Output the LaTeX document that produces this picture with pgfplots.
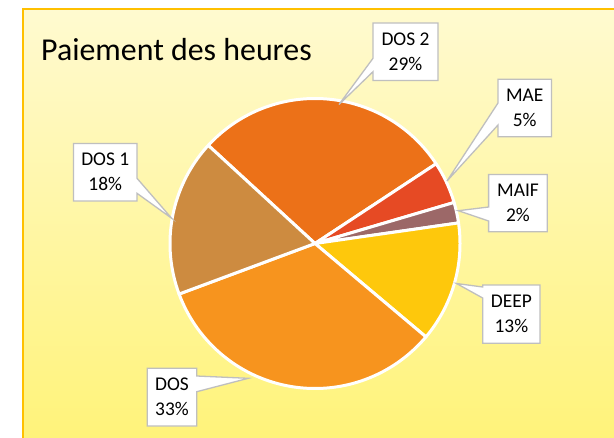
\documentclass[border=0pt]{standalone}
\usepackage{pgfplots}
\pgfplotsset{compat=1.18}
\usepackage{pgfplotstable}
\usepackage{fontspec}
\setmainfont{Carlito}
\definecolor{cDOSii}{HTML}{EC7118}
\definecolor{cMAE}{HTML}{E64A24}
\definecolor{cMAIF}{HTML}{9C6868}
\definecolor{cDEEP}{HTML}{FEC80C}
\definecolor{cDOS}{HTML}{F7941E}
\definecolor{cDOSi}{HTML}{CD8B40}
\definecolor{bgtop}{HTML}{FFFAD0}
\definecolor{bgbot}{HTML}{FFF37A}
\definecolor{frame}{HTML}{FFC000}
\definecolor{boxline}{HTML}{BFBFBF}

% slices listed clockwise, starting at 137.4 degrees
\pgfplotstableread{
slice value
DOS2 28.9
MAE 4.7
MAIF 2.3
DEEP 13.4
DOS 33.2
DOS1 17.5
}\piedata

\def\startangle{137.4}
\xdef\cum{\startangle}
\foreach \i in {0,...,5}{%
  \pgfplotstablegetelem{\i}{value}\of\piedata
  \pgfmathsetmacro\tmp{\cum-3.6*\pgfplotsretval}%
  \expandafter\xdef\csname ang\i\endcsname{\tmp}%
  \xdef\cum{\tmp}%
}
\edef\aA{\csname ang0\endcsname}
\edef\aB{\csname ang1\endcsname}
\edef\aC{\csname ang2\endcsname}
\edef\aD{\csname ang3\endcsname}
\edef\aE{\csname ang4\endcsname}
\edef\aF{\csname ang5\endcsname}

\newcommand\slice[3]{%
  \addplot[fill=#3, draw=white, line width=3bp, line join=round,
    domain=#2:#1, samples=90]
    ({315+145*cos(x)},{243.5-145*sin(x)}) -- (axis cs:315,243.5) -- cycle;}

\begin{document}
\begin{tikzpicture}
\begin{axis}[scale only axis, width=614bp, height=438bp,
  xmin=0, xmax=614, ymin=0, ymax=438, y dir=reverse,
  hide axis, clip=true, no markers]
% background
\fill[white] (axis cs:0,0) rectangle (axis cs:614,438);
\fill[top color=bgtop, bottom color=bgbot] (axis cs:23,9) rectangle (axis cs:614,438);
\draw[frame, line width=1.5bp] (axis cs:23,440) -- (axis cs:23,9) -- (axis cs:616,9);
% title
\node[anchor=base west, font=\fontsize{32}{36}\selectfont, inner sep=0pt]
  at (axis cs:41,61) {Paiement des heures};
% pie
\slice{\startangle}{\aA}{cDOSii}
\slice{\aA}{\aB}{cMAE}
\slice{\aB}{\aC}{cMAIF}
\slice{\aC}{\aD}{cDEEP}
\slice{\aD}{\aE}{cDOS}
\slice{\aE}{\aF}{cDOSi}
% callouts
\tikzset{callout/.style={fill=white, draw=boxline, line width=1.3bp, line join=miter}}
\tikzset{lbl/.style={align=center, font=\fontsize{19.5}{25}\selectfont, inner sep=0pt}}
\draw[callout] (axis cs:373,23) -- (axis cs:438,23) -- (axis cs:438,80.5) -- (axis cs:373,80.5)
  -- (axis cs:373,71.7) -- (axis cs:339,104.5) -- (axis cs:373,58.3) -- cycle;
\node[lbl] at (axis cs:405.5,52) {DOS 2\\29\%};
\draw[callout] (axis cs:498,79.3) -- (axis cs:551.5,79.3) -- (axis cs:551.5,136.7) -- (axis cs:498,136.7)
  -- (axis cs:498,125) -- (axis cs:447,181) -- (axis cs:498,103) -- cycle;
\node[lbl] at (axis cs:524.75,108) {MAE\\5\%};
\draw[callout] (axis cs:488.6,174.5) -- (axis cs:547.3,174.5) -- (axis cs:547.3,231.7) -- (axis cs:488.6,231.7)
  -- (axis cs:488.6,221) -- (axis cs:458.3,210.7) -- (axis cs:488.6,207) -- cycle;
\node[lbl] at (axis cs:518,203) {MAIF\\2\%};
\draw[callout] (axis cs:73.5,143.5) -- (axis cs:137,143.5) -- (axis cs:137,178.3) -- (axis cs:171.7,218.3)
  -- (axis cs:137,193.3) -- (axis cs:137,201) -- (axis cs:73.5,201) -- cycle;
\node[lbl] at (axis cs:105.25,172) {DOS 1\\18\%};
\draw[callout] (axis cs:482.7,285) -- (axis cs:540,285) -- (axis cs:540,343.3) -- (axis cs:482.7,343.3)
  -- (axis cs:482.7,298) -- (axis cs:456.5,283.5) -- (axis cs:482.7,287) -- cycle;
\node[lbl] at (axis cs:511.35,314) {DEEP\\13\%};
\draw[callout] (axis cs:147.3,368.3) -- (axis cs:196.7,368.3) -- (axis cs:196.7,376) -- (axis cs:248.3,378.3)
  -- (axis cs:196.7,391.7) -- (axis cs:196.7,426) -- (axis cs:147.3,426) -- cycle;
\node[lbl] at (axis cs:172,397) {DOS\\33\%};
\end{axis}
\end{tikzpicture}
\end{document}
